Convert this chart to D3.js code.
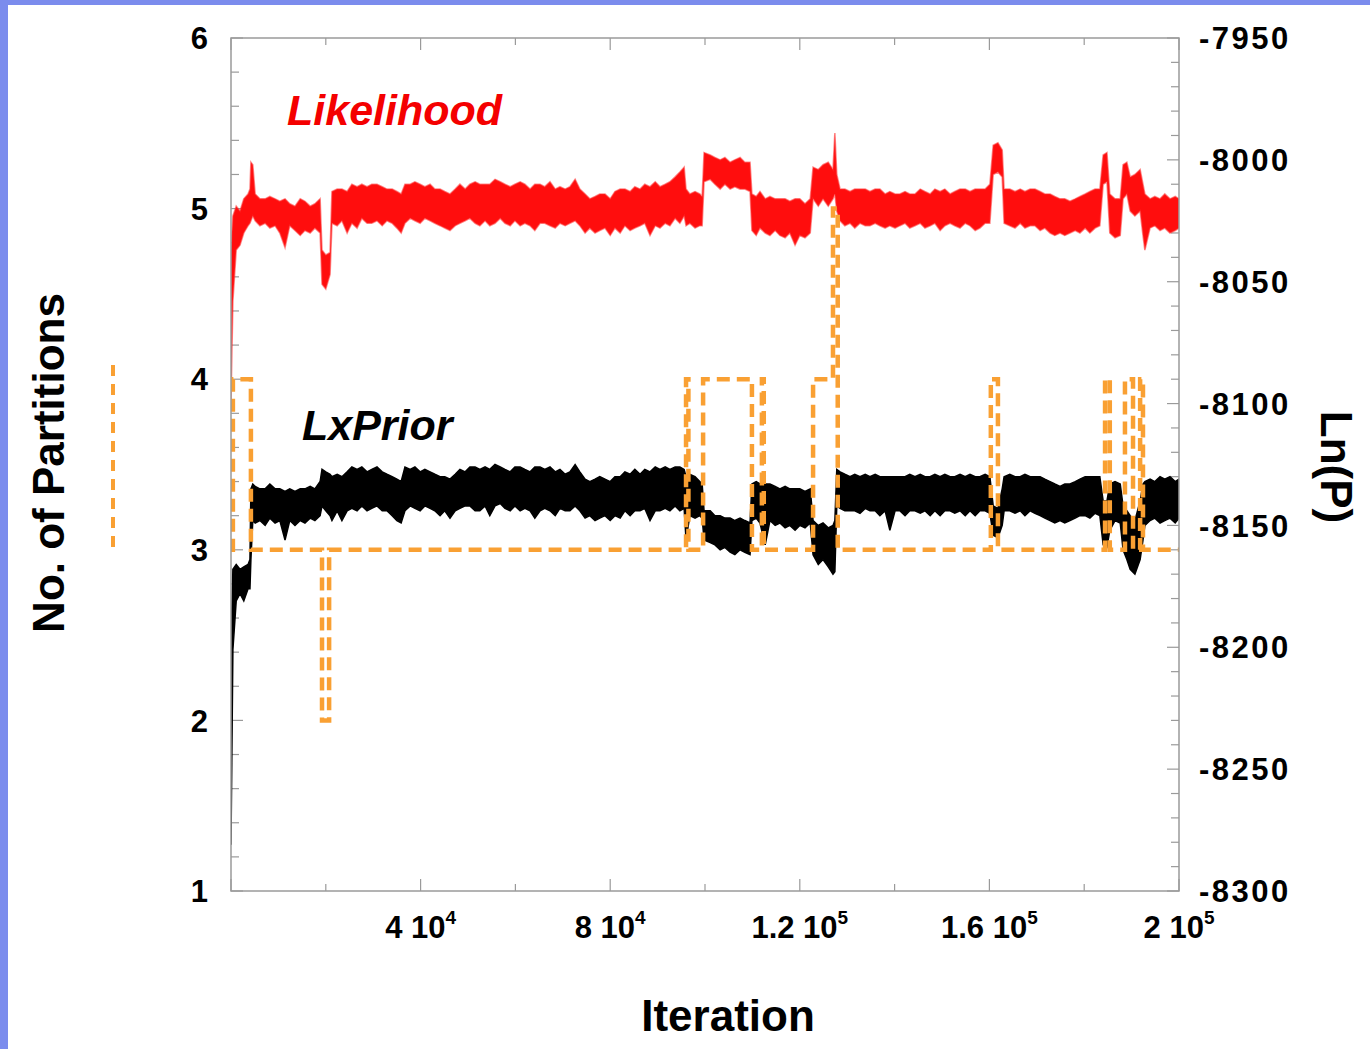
<!DOCTYPE html>
<html><head><meta charset="utf-8">
<script src="https://cdn.jsdelivr.net/npm/d3@7"></script>
<style>
html,body{margin:0;padding:0;background:#7b8ced;}
svg{display:block;}
text{font-family:"Liberation Sans",Arial,Helvetica,sans-serif;font-weight:bold;}
</style></head>
<body>
<svg id="chart" width="1370" height="1049"></svg>
<script>
// ---------------- data ----------------
const iterations = [
0,400,1100,1900,2700,3600,4000,4200,4600,5100,
6100,7200,8200,9300,10300,11400,12400,13500,14600,15600,
16700,17700,18800,19200,20000,20900,21300,22400,23400,24500,
25500,26600,27600,28700,29700,30800,31900,32900,34000,35000,
35900,36700,37800,38800,39900,40900,42000,43000,44100,45100,
46200,47300,48300,49400,50400,51500,52500,53600,54600,55700,
56800,57800,58900,59900,61000,62000,63100,64100,65200,66200,
67300,68400,69400,70500,71500,72600,73600,74700,75700,76800,
77800,78900,80000,81000,82100,83100,84200,85200,86300,87300,
88400,89500,90500,91600,92600,93700,94700,95600,96000,96800,
97900,98900,99400,99800,101100,102100,103200,104200,105300,106300,
107400,108400,109500,109900,110800,111600,112700,113700,114800,115800,
116900,117900,119000,120000,121100,122200,122800,123900,124900,126000,
127000,127400,127800,128500,129500,130600,131600,132700,133800,134800,
135900,136900,138000,139000,140100,141100,142200,143200,144300,145400,
146400,147500,148500,149600,150600,151700,152700,153800,154900,155900,
157000,158000,159100,160100,160800,161800,162700,163100,164300,165400,
166500,167500,168600,169600,170700,171700,172800,173800,174900,175900,
177000,178100,179100,180200,181200,182300,183300,184000,184800,185400,
186500,187600,188200,189000,189700,190700,191800,192400,192800,193900,
194900,196000,197000,198100,199200,200000];

const likelihoodHigh = [
-8037,-8023,-8019,-8021,-8016,-8014,-8012,-8001,-8002,-8014,
-8016,-8016,-8015,-8016,-8017,-8016,-8018,-8019,-8016,-8017,
-8019,-8018,-8016,-8037,-8039,-8038,-8013,-8012,-8012,-8013,
-8010,-8011,-8010,-8011,-8010,-8010,-8011,-8012,-8012,-8013,
-8014,-8010,-8010,-8009,-8010,-8011,-8010,-8012,-8012,-8013,
-8014,-8012,-8010,-8012,-8010,-8009,-8010,-8010,-8010,-8008,
-8009,-8010,-8011,-8010,-8009,-8010,-8012,-8010,-8010,-8011,
-8009,-8012,-8011,-8012,-8011,-8008,-8012,-8014,-8016,-8015,
-8014,-8014,-8016,-8013,-8012,-8012,-8013,-8011,-8012,-8010,
-8011,-8009,-8011,-8010,-8009,-8007,-8005,-8003,-8012,-8014,
-8013,-8014,-8015,-7997,-7998,-7999,-8000,-7999,-8001,-8000,
-7999,-8001,-8001,-8014,-8015,-8013,-8016,-8015,-8016,-8016,
-8016,-8017,-8016,-8016,-8018,-8016,-8003,-8004,-8002,-8001,
-8004,-7989,-8006,-8012,-8012,-8013,-8012,-8012,-8012,-8013,
-8012,-8012,-8014,-8013,-8014,-8014,-8013,-8014,-8014,-8012,
-8013,-8014,-8012,-8013,-8012,-8014,-8013,-8012,-8012,-8013,
-8012,-8012,-8012,-8010,-7994,-7993,-7996,-8012,-8012,-8013,
-8012,-8013,-8012,-8012,-8013,-8014,-8014,-8015,-8016,-8016,
-8017,-8016,-8015,-8014,-8013,-8012,-8012,-7998,-7997,-8014,
-8016,-8016,-8002,-8001,-8007,-8006,-8004,-8010,-8014,-8016,
-8015,-8016,-8014,-8016,-8015,-8016];

const likelihoodLow = [
-8099,-8058,-8037,-8035,-8030,-8027,-8026,-8025,-8023,-8025,
-8027,-8026,-8028,-8027,-8030,-8036,-8027,-8029,-8031,-8029,
-8030,-8028,-8030,-8051,-8053,-8047,-8026,-8027,-8025,-8030,
-8026,-8028,-8024,-8026,-8026,-8025,-8027,-8025,-8026,-8028,
-8030,-8026,-8024,-8025,-8026,-8024,-8025,-8026,-8027,-8028,
-8029,-8027,-8026,-8025,-8024,-8026,-8027,-8025,-8027,-8026,
-8024,-8026,-8027,-8025,-8027,-8026,-8027,-8029,-8026,-8026,
-8027,-8028,-8026,-8027,-8026,-8025,-8027,-8030,-8028,-8030,
-8029,-8028,-8031,-8028,-8030,-8027,-8029,-8028,-8027,-8026,
-8031,-8027,-8028,-8026,-8027,-8024,-8026,-8023,-8027,-8026,
-8028,-8027,-8027,-8009,-8008,-8010,-8012,-8010,-8012,-8011,
-8012,-8012,-8013,-8029,-8031,-8028,-8030,-8031,-8029,-8031,
-8032,-8030,-8035,-8031,-8032,-8030,-8016,-8019,-8016,-8019,
-8016,-8014,-8021,-8025,-8027,-8026,-8028,-8026,-8027,-8027,
-8026,-8027,-8028,-8027,-8028,-8027,-8026,-8028,-8027,-8026,
-8028,-8027,-8026,-8029,-8027,-8026,-8027,-8028,-8026,-8027,
-8029,-8028,-8026,-8026,-8006,-8005,-8007,-8026,-8027,-8028,
-8026,-8028,-8027,-8027,-8029,-8028,-8030,-8031,-8030,-8031,
-8030,-8029,-8030,-8028,-8030,-8028,-8027,-8010,-8009,-8030,
-8032,-8031,-8016,-8014,-8021,-8023,-8021,-8031,-8037,-8028,
-8027,-8029,-8028,-8030,-8029,-8028];

const priorHigh = [
-8197,-8168,-8166,-8168,-8167,-8166,-8164,-8135,-8133,-8134,
-8135,-8135,-8133,-8135,-8135,-8136,-8135,-8136,-8135,-8135,
-8134,-8135,-8132,-8127,-8128,-8129,-8130,-8129,-8130,-8128,
-8126,-8127,-8126,-8128,-8127,-8126,-8128,-8129,-8130,-8131,
-8132,-8126,-8127,-8126,-8128,-8127,-8128,-8129,-8130,-8130,
-8131,-8129,-8127,-8128,-8126,-8126,-8127,-8126,-8127,-8125,
-8126,-8127,-8128,-8126,-8126,-8127,-8128,-8126,-8126,-8127,
-8126,-8128,-8127,-8129,-8128,-8125,-8128,-8131,-8132,-8131,
-8130,-8131,-8132,-8130,-8130,-8128,-8129,-8127,-8129,-8127,
-8128,-8126,-8127,-8126,-8127,-8126,-8126,-8127,-8130,-8129,
-8130,-8132,-8133,-8144,-8144,-8146,-8146,-8147,-8147,-8148,
-8147,-8148,-8149,-8133,-8132,-8133,-8133,-8133,-8134,-8135,
-8134,-8135,-8135,-8135,-8136,-8135,-8148,-8150,-8149,-8151,
-8150,-8148,-8127,-8128,-8129,-8130,-8129,-8130,-8129,-8130,
-8129,-8130,-8130,-8130,-8130,-8130,-8130,-8129,-8130,-8129,
-8130,-8130,-8129,-8130,-8129,-8130,-8130,-8129,-8130,-8129,
-8130,-8130,-8129,-8130,-8142,-8143,-8135,-8130,-8129,-8130,
-8130,-8129,-8130,-8130,-8130,-8131,-8132,-8133,-8134,-8133,
-8133,-8132,-8131,-8130,-8130,-8130,-8130,-8140,-8140,-8133,
-8132,-8133,-8142,-8144,-8146,-8148,-8140,-8133,-8132,-8131,
-8132,-8130,-8131,-8130,-8132,-8131];

const priorLow = [
-8281,-8201,-8181,-8178,-8181,-8176,-8176,-8164,-8148,-8149,
-8148,-8150,-8147,-8149,-8148,-8156,-8148,-8150,-8148,-8149,
-8147,-8148,-8146,-8142,-8144,-8146,-8148,-8144,-8148,-8144,
-8143,-8144,-8142,-8144,-8143,-8142,-8144,-8144,-8146,-8148,
-8149,-8144,-8142,-8143,-8144,-8142,-8143,-8144,-8146,-8144,
-8147,-8144,-8143,-8142,-8142,-8144,-8144,-8142,-8146,-8142,
-8141,-8143,-8144,-8142,-8144,-8143,-8144,-8147,-8144,-8143,
-8144,-8146,-8143,-8144,-8144,-8142,-8144,-8147,-8146,-8148,
-8147,-8146,-8148,-8146,-8147,-8144,-8146,-8144,-8144,-8143,
-8148,-8144,-8144,-8143,-8144,-8142,-8144,-8143,-8156,-8146,
-8147,-8146,-8147,-8156,-8157,-8158,-8160,-8159,-8161,-8162,
-8160,-8161,-8162,-8148,-8147,-8149,-8158,-8148,-8150,-8149,
-8151,-8150,-8152,-8150,-8151,-8149,-8162,-8166,-8164,-8167,
-8170,-8169,-8142,-8143,-8144,-8144,-8144,-8145,-8143,-8144,
-8144,-8146,-8144,-8152,-8144,-8144,-8146,-8144,-8144,-8145,
-8144,-8146,-8144,-8146,-8144,-8144,-8145,-8144,-8146,-8144,
-8146,-8144,-8144,-8145,-8154,-8155,-8150,-8144,-8144,-8145,
-8144,-8146,-8144,-8145,-8146,-8147,-8148,-8149,-8148,-8149,
-8148,-8147,-8146,-8146,-8147,-8145,-8146,-8158,-8159,-8152,
-8148,-8149,-8160,-8164,-8168,-8170,-8164,-8156,-8150,-8148,
-8147,-8149,-8148,-8147,-8149,-8147];

const partitionIter  = [0,400,4200,19200,20700,96000,96500,99600,109900,112000,112400,122800,127000,128000,160300,161800,184400,185400,188600,190300,191800,192400,200000];
const partitionCount = [3,4,3,2,3,4,3,4,3,4,3,4,5,3,4,3,4,3,4,3,4,3,3];

const leftTickValues  = [1,2,3,4,5,6];
const rightTickValues = [-8300,-8250,-8200,-8150,-8100,-8050,-8000,-7950];
const xTickValues     = [40000,80000,120000,160000,200000];
const xTickMantissa   = ["4","8","1.2","1.6","2"];
const xTickExponent   = ["4","4","5","5","5"];

// ---------------- layout ----------------
const svg = d3.select("#chart");
svg.append("rect").attr("x",8).attr("y",5).attr("width",1362).attr("height",1044).attr("fill","#fff");

const L = 231, R = 1179, T = 38, B = 891;
const x = d3.scaleLinear().domain([0,200000]).range([L,R]);
const yL = d3.scaleLinear().domain([1,6]).range([B,T]);
const yR = d3.scaleLinear().domain([-8300,-7950]).range([B,T]);

const frameColor = "#9a9a9a";

svg.append("clipPath").attr("id","clip").append("rect")
  .attr("x",L).attr("y",T).attr("width",R-L).attr("height",B-T);

// ticks
const axisG = svg.append("g").attr("stroke",frameColor).attr("stroke-width",1.2);
d3.range(1,6.001,0.2).forEach(v=>{
  const major = Math.abs(v-Math.round(v))<1e-6;
  axisG.append("line").attr("x1",L).attr("x2",L+(major?12:8)).attr("y1",yL(v)).attr("y2",yL(v));
});
d3.range(-8300,-7949,10).forEach(v=>{
  const major = v%50===0;
  axisG.append("line").attr("x1",R).attr("x2",R-(major?12:8)).attr("y1",yR(v)).attr("y2",yR(v));
});
d3.range(0,200001,20000).forEach(v=>{
  const major = v%40000===0;
  axisG.append("line").attr("x1",x(v)).attr("x2",x(v)).attr("y1",B).attr("y2",B-(major?12:7));
  axisG.append("line").attr("x1",x(v)).attr("x2",x(v)).attr("y1",T).attr("y2",T+(major?12:7));
});

// series
const plot = svg.append("g").attr("clip-path","url(#clip)");
const rows = iterations.map((it,i)=>({it, lh:likelihoodHigh[i], ll:likelihoodLow[i], ph:priorHigh[i], pl:priorLow[i]}));

plot.append("path").datum(rows)
  .attr("d", d3.area().x(d=>x(d.it)).y0(d=>yR(d.ll)).y1(d=>yR(d.lh)))
  .attr("fill","#ff0d0d").attr("stroke","#ff3030").attr("stroke-width",1.6).attr("stroke-opacity",0.55);

plot.append("path").datum(rows)
  .attr("d", d3.area().x(d=>x(d.it)).y0(d=>yR(d.pl)).y1(d=>yR(d.ph)))
  .attr("fill","#000").attr("stroke","#000").attr("stroke-width",1.5);

const partRows = partitionIter.map((it,i)=>({it, v:partitionCount[i]}));
plot.append("path").datum(partRows)
  .attr("d", d3.line().x(d=>x(d.it)).y(d=>yL(d.v)).curve(d3.curveStepAfter))
  .attr("fill","none").attr("stroke","#f9a033").attr("stroke-width",4.5)
  .attr("stroke-dasharray","13,7");

// frame
svg.append("rect").attr("x",L).attr("y",T).attr("width",R-L).attr("height",B-T)
  .attr("fill","none").attr("stroke",frameColor).attr("stroke-width",1.5);

// tick labels
svg.append("g").selectAll("text").data(leftTickValues).join("text")
  .attr("x",208).attr("y",d=>yL(d)).attr("dy","0.36em")
  .attr("text-anchor","end").attr("font-size",31).text(d=>d);

svg.append("g").selectAll("text").data(rightTickValues).join("text")
  .attr("x",1199).attr("y",d=>yR(d)).attr("dy","0.36em")
  .attr("text-anchor","start").attr("font-size",31).attr("letter-spacing","2.5px").text(d=>d);

const xl = svg.append("g").selectAll("text").data(xTickValues).join("text")
  .attr("x",d=>x(d)).attr("y",938).attr("text-anchor","middle").attr("font-size",31);
xl.append("tspan").text((d,i)=>xTickMantissa[i]+" 10");
xl.append("tspan").attr("font-size",19).attr("dy",-14).text((d,i)=>xTickExponent[i]);

// axis titles
svg.append("text").attr("x",728).attr("y",1031).attr("text-anchor","middle")
  .attr("font-size",44).text("Iteration");
svg.append("text").attr("transform","translate(64,463) rotate(-90)").attr("text-anchor","middle")
  .attr("font-size",44).text("No. of Partitions");
svg.append("text").attr("transform","translate(1321,467) rotate(90)").attr("text-anchor","middle")
  .attr("font-size",44).text("Ln(P)");

// legend dash for partitions
svg.append("line").attr("x1",113).attr("x2",113).attr("y1",365).attr("y2",555)
  .attr("stroke","#f9a033").attr("stroke-width",4).attr("stroke-dasharray","11,8");

// series labels
svg.append("text").attr("x",287).attr("y",125).attr("font-size",43).attr("font-style","italic")
  .attr("fill","#f40000").text("Likelihood");
svg.append("text").attr("x",302).attr("y",440).attr("font-size",43).attr("font-style","italic")
  .attr("fill","#000").text("LxPrior");
</script>
</body></html>
